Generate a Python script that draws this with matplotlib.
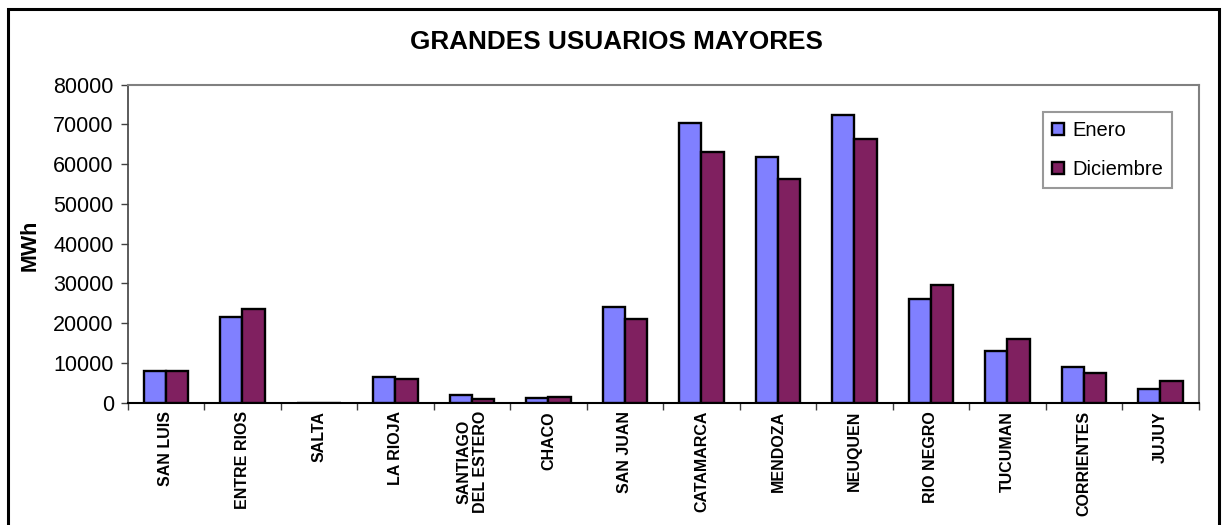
import matplotlib
matplotlib.use("Agg")
import matplotlib.pyplot as plt
import numpy as np
from matplotlib.patches import Rectangle

plt.rcParams['font.family'] = ['Liberation Sans', 'DejaVu Sans']

categories = ["SAN LUIS", "ENTRE RIOS", "SALTA", "LA RIOJA", "SANTIAGO\nDEL ESTERO",
              "CHACO", "SAN JUAN", "CATAMARCA", "MENDOZA", "NEUQUEN", "RIO NEGRO",
              "TUCUMAN", "CORRIENTES", "JUJUY"]
enero = [8000, 21600, 0, 6500, 2000, 1100, 24100, 70400, 61900, 72400, 26100, 13100, 9000, 3500]
diciembre = [8000, 23600, 0, 6000, 1000, 1500, 21100, 63000, 56400, 66400, 29700, 16100, 7500, 5500]
series_names = ["Enero", "Diciembre"]
yticks = [0, 10000, 20000, 30000, 40000, 50000, 60000, 70000, 80000]

W, H = 1224, 525
fig = plt.figure(figsize=(W / 100, H / 100), dpi=100)
fig.patch.set_facecolor('white')

# outer chart border
fig.patches.append(Rectangle((8 / W, -0.05), (1219 - 8) / W, 1.05 - 9 / H,
                             transform=fig.transFigure, fill=False,
                             edgecolor='black', linewidth=2.2, zorder=0))

ax = fig.add_axes([127.7 / W, 1 - 402.7 / H, (1198.7 - 127.7) / W, (402.7 - 84.7) / H])

x = np.arange(len(categories))
bw = 0.293
ax.bar(x - bw / 2, enero, bw, color='#8080FF', edgecolor='black', linewidth=1.7,
       label=series_names[0], zorder=3)
ax.bar(x + bw / 2, diciembre, bw, color='#802060', edgecolor='black', linewidth=1.7,
       label=series_names[1], zorder=3)

ax.set_xlim(-0.5, len(categories) - 0.5)
ax.set_ylim(0, 80000)
ax.set_yticks(yticks)
ax.set_yticklabels([str(v) for v in yticks], fontsize=15.5)
ax.tick_params(axis='y', direction='out', length=5, width=1, color='#404040', pad=5)

ax.set_xticks(x)
ax.set_xticklabels(categories, rotation=90, fontsize=11.5, fontweight='bold',
                   va='top', ha='center', linespacing=1.15)
ax.tick_params(axis='x', which='major', length=0, pad=6)
ax.set_xticks(np.arange(-0.5, len(categories)), minor=True)
ax.tick_params(axis='x', which='minor', direction='out', length=5, width=1, color='#404040')

for s in ['top', 'right']:
    ax.spines[s].set_color('#808080')
    ax.spines[s].set_linewidth(1.5)
ax.spines['left'].set_color('#404040')
ax.spines['left'].set_linewidth(1.2)
ax.spines['bottom'].set_color('black')
ax.spines['bottom'].set_linewidth(1.5)

fig.text(616 / W, 1 - 42 / H, "GRANDES USUARIOS MAYORES", ha='center', va='center',
         fontsize=18.8, fontweight='bold')
fig.text(30 / W, 1 - 245 / H, "MWh", rotation=90, ha='center', va='center',
         fontsize=15.5, fontweight='bold')

leg = ax.legend(loc='upper left', bbox_to_anchor=(1043 / W, 1 - 112 / H),
                bbox_transform=fig.transFigure, borderaxespad=0, fontsize=14.5,
                fancybox=False, frameon=True, handlelength=0.6, handleheight=0.6,
                handletextpad=0.4, labelspacing=1.0, borderpad=0.45)
leg.get_frame().set_edgecolor('#808080')
leg.get_frame().set_linewidth(1.5)

fig.savefig("out.png", dpi=100)
